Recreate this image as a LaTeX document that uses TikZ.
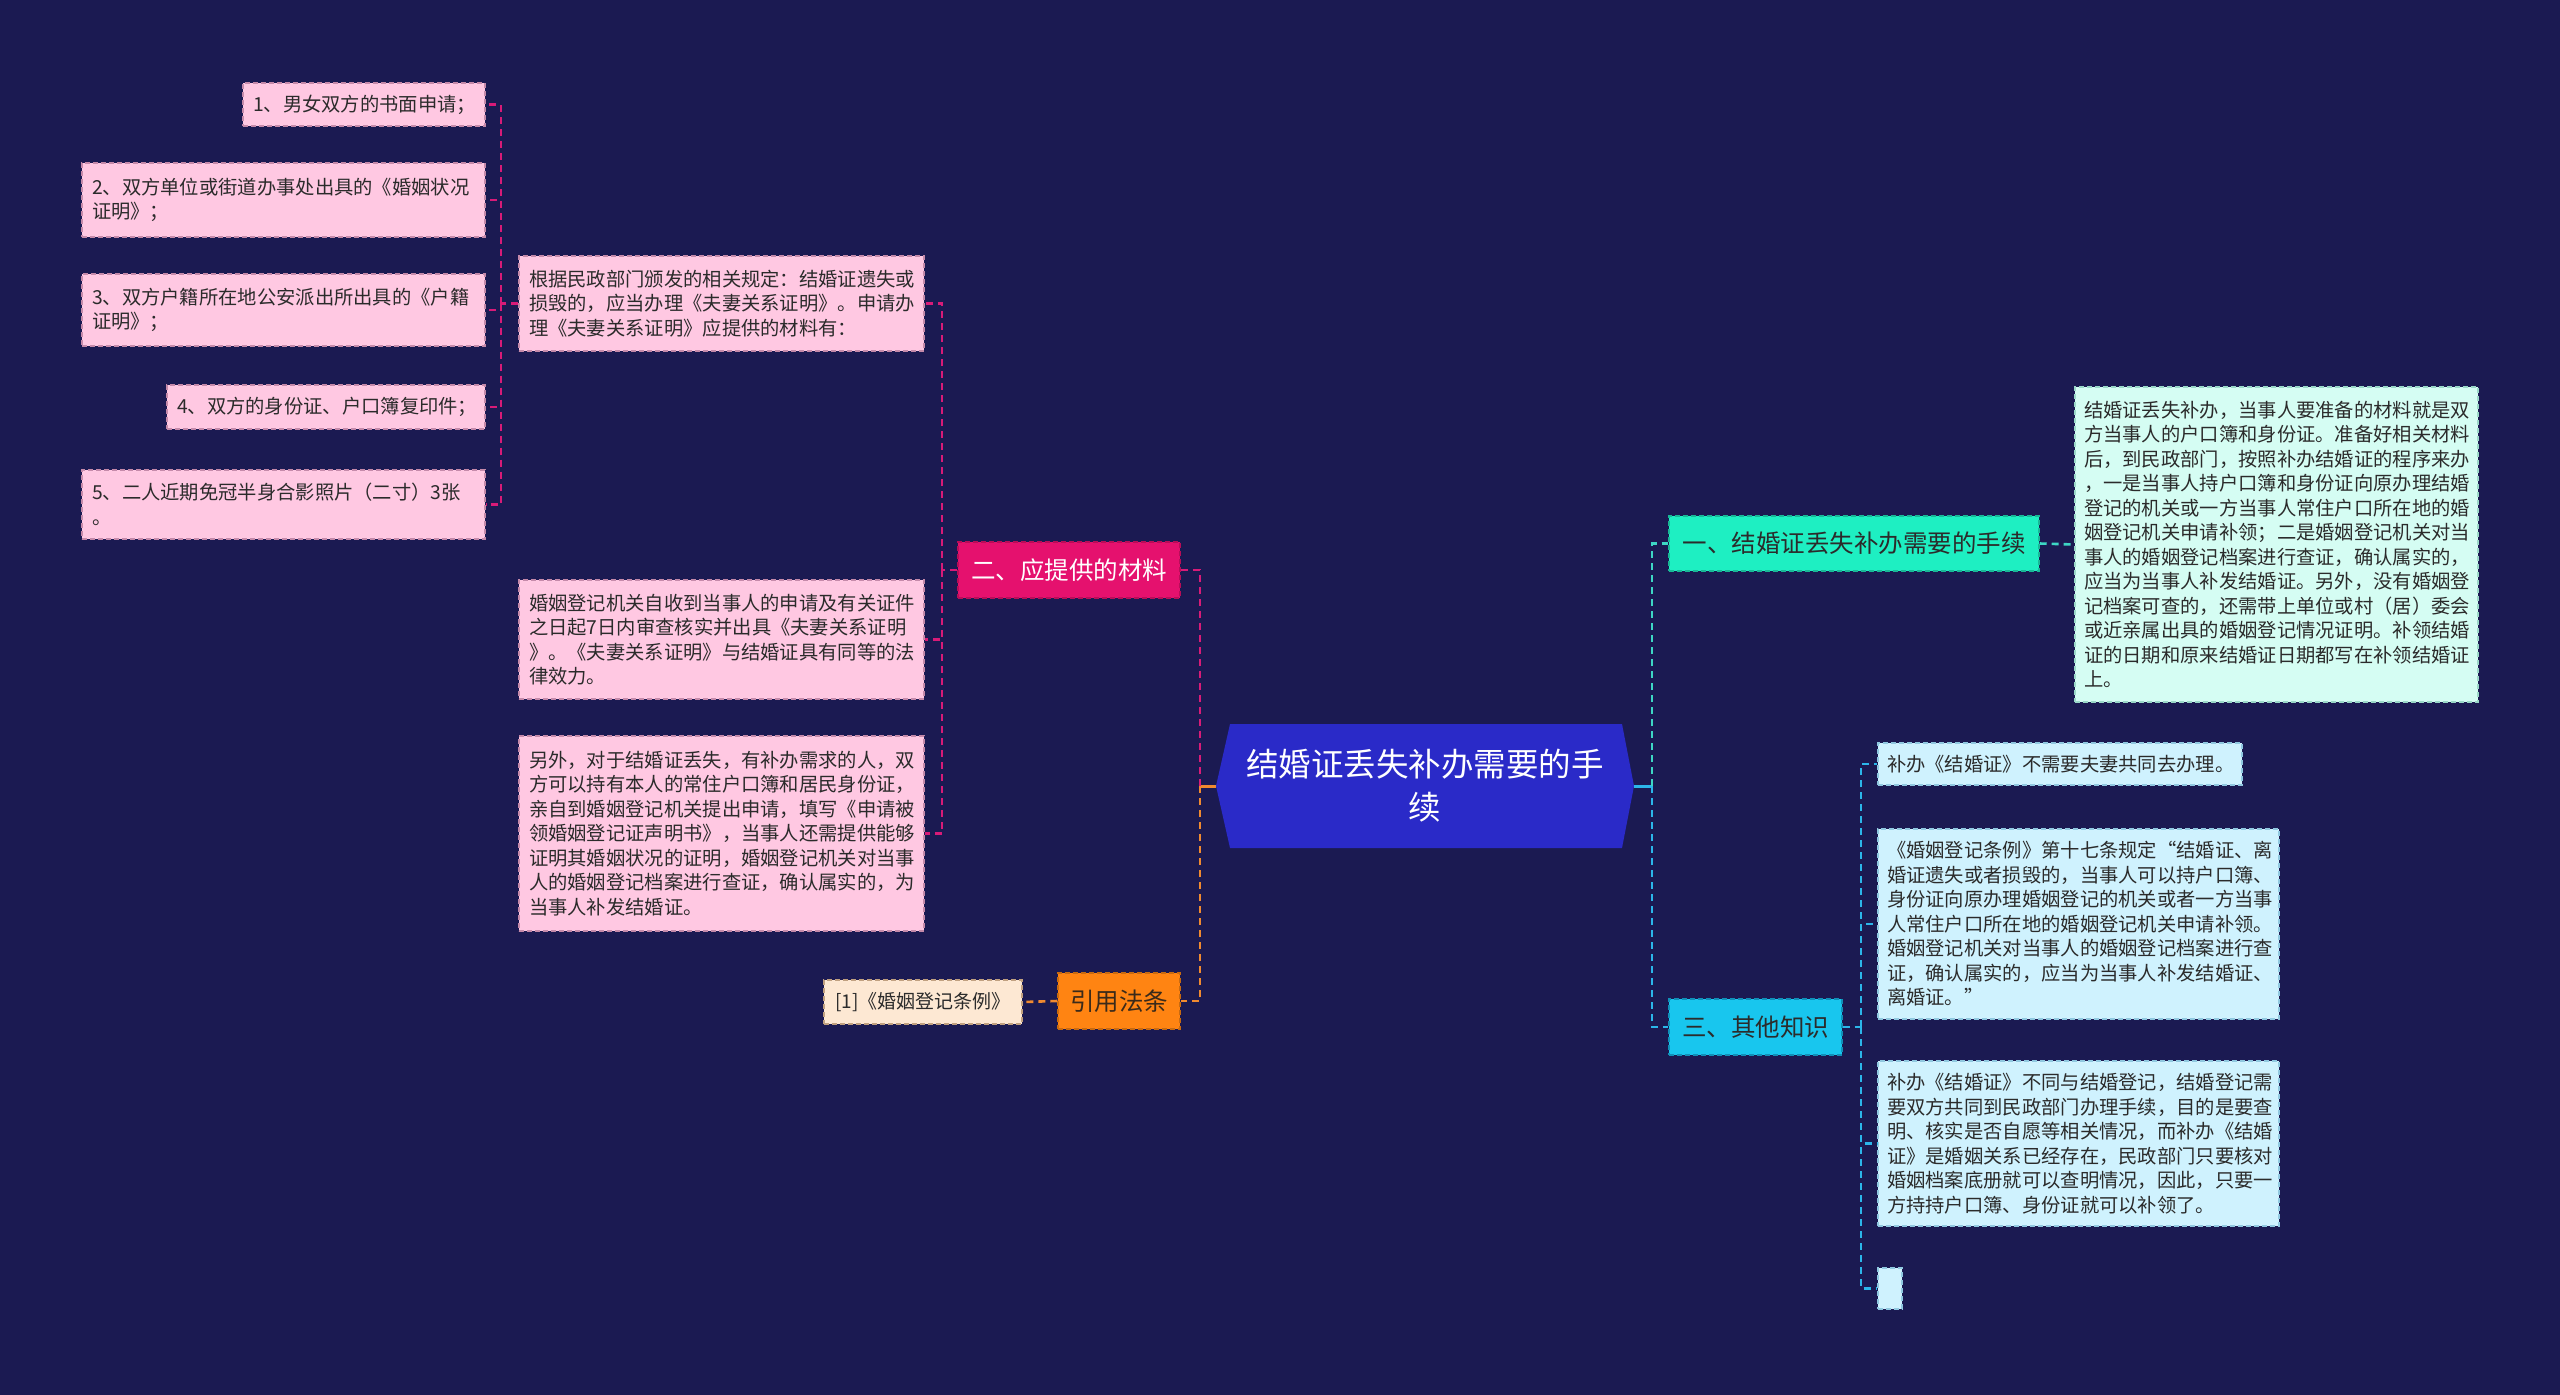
\documentclass[tikz,border=0pt]{standalone}
\usepackage{fontspec}
\setmainfont{Noto Sans CJK SC}
\newcommand\myfs[2]{\fontsize{#1}{#2}\selectfont}
\definecolor{bgc}{HTML}{1B1A52}
\definecolor{leaff}{HTML}{FFC8E2}
\definecolor{leafd}{HTML}{C58AAA}
\definecolor{magf}{HTML}{E5116E}
\definecolor{magd}{HTML}{B80D58}
\definecolor{cpink}{HTML}{D81B78}
\definecolor{orgf}{HTML}{FF8412}
\definecolor{orgd}{HTML}{C86A10}
\definecolor{corg}{HTML}{F08A30}
\definecolor{reff}{HTML}{FDE8D3}
\definecolor{refd}{HTML}{C0A080}
\definecolor{rootf}{HTML}{2A2AC8}
\definecolor{onef}{HTML}{1EEFC2}
\definecolor{oned}{HTML}{18B896}
\definecolor{rtf}{HTML}{D5FDF3}
\definecolor{rtd}{HTML}{9AD8C8}
\definecolor{threef}{HTML}{18C6EE}
\definecolor{threed}{HTML}{1090B8}
\definecolor{kf}{HTML}{CFF2FE}
\definecolor{kd}{HTML}{90C8E0}
\definecolor{cteal}{HTML}{3ED6C4}
\definecolor{csky}{HTML}{2CB6EA}
\definecolor{txt}{HTML}{2B2B2B}
\begin{document}
\begin{tikzpicture}[x=1pt,y=-1pt,
  conn/.style={line width=2.6pt, dash pattern=on 7pt off 5pt},
  solidconn/.style={line width=3pt},
  base/.style={draw, line width=1.4pt, dash pattern=on 5pt off 3pt, inner sep=0pt, text=txt},
  textbox/.style={base, align=left, font=\myfs{19.3}{24.5}},
  leaf/.style={textbox, fill=leaff, draw=leafd},
  pinkbox/.style={textbox, fill=leaff, draw=leafd},
  kbox/.style={textbox, fill=kf, draw=kd},
  rtbox/.style={textbox, fill=rtf, draw=rtd},
  topic/.style={base, align=center, font=\myfs{24.5}{30}}
]
\useasboundingbox (0,0) rectangle (2560,1395);
\fill[bgc] (0,0) rectangle (2560,1395);

% root hexagon
\fill[rootf] (1230,724) -- (1622,724) -- (1634,786) -- (1622,848) -- (1230,848) -- (1216,786) -- cycle;
\node[text=white, align=center, font=\myfs{32.5}{43}, minimum width=418pt, minimum height=124pt, inner sep=0pt] (root) at (1425,786) {结婚证丢失补办需要的手\\续};

% left main topics
\node[topic, fill=magf, draw=magd, text=white, minimum width=222pt, minimum height=56pt] (two) at (1069,570) {二、应提供的材料};
\node[topic, fill=orgf, draw=orgd, text={rgb,255:red,58;green,42;blue,26}, minimum width=122pt, minimum height=56pt] (cite) at (1119,1001) {引用法条};
\node[base, fill=reff, draw=refd, font=\myfs{19}{24}, minimum width=198pt, minimum height=44pt] (ref) at (923,1002) {[1]《婚姻登记条例》};

% pink boxes
\node[pinkbox, minimum width=405pt, minimum height=95pt, text width=385pt] (p1) at (721.5,303.5) {根据民政部门颁发的相关规定：结婚证遗失或\\损毁的，应当办理《夫妻关系证明》。申请办\\理《夫妻关系证明》应提供的材料有：};
\node[pinkbox, minimum width=405pt, minimum height=119pt, text width=385pt] (p2) at (721.5,639.5) {婚姻登记机关自收到当事人的申请及有关证件\\之日起7日内审查核实并出具《夫妻关系证明\\》。《夫妻关系证明》与结婚证具有同等的法\\律效力。};
\node[pinkbox, minimum width=405pt, minimum height=195pt, text width=385pt] (p3) at (721.5,833.5) {另外，对于结婚证丢失，有补办需求的人，双\\方可以持有本人的常住户口簿和居民身份证，\\亲自到婚姻登记机关提出申请，填写《申请被\\领婚姻登记证声明书》，当事人还需提供能够\\证明其婚姻状况的证明，婚姻登记机关对当事\\人的婚姻登记档案进行查证，确认属实的，为\\当事人补发结婚证。};

% leaves
\node[leaf, minimum width=242pt, minimum height=43pt, text width=222pt] (l1) at (364,104.5) {1、男女双方的书面申请；};
\node[leaf, minimum width=403pt, minimum height=74pt, text width=383pt] (l2) at (283.5,200) {2、双方单位或街道办事处出具的《婚姻状况\\证明》；};
\node[leaf, minimum width=403pt, minimum height=72pt, text width=383pt] (l3) at (283.5,310) {3、双方户籍所在地公安派出所出具的《户籍\\证明》；};
\node[leaf, minimum width=318pt, minimum height=44pt, text width=298pt] (l4) at (326,407) {4、双方的身份证、户口簿复印件；};
\node[leaf, minimum width=403pt, minimum height=69pt, text width=383pt] (l5) at (283.5,504.5) {5、二人近期免冠半身合影照片（二寸）3张\\。};

% right topics
\node[topic, fill=onef, draw=oned, minimum width=370pt, minimum height=55pt] (one) at (1854,543.5) {一、结婚证丢失补办需要的手续};
\node[rtbox, minimum width=403pt, minimum height=315pt, text width=385pt] (rt) at (2276.5,544.5) {结婚证丢失补办，当事人要准备的材料就是双\\方当事人的户口簿和身份证。准备好相关材料\\后，到民政部门，按照补办结婚证的程序来办\\，一是当事人持户口簿和身份证向原办理结婚\\登记的机关或一方当事人常住户口所在地的婚\\姻登记机关申请补领；二是婚姻登记机关对当\\事人的婚姻登记档案进行查证，确认属实的，\\应当为当事人补发结婚证。另外，没有婚姻登\\记档案可查的，还需带上单位或村（居）委会\\或近亲属出具的婚姻登记情况证明。补领结婚\\证的日期和原来结婚证日期都写在补领结婚证\\上。};
\node[topic, fill=threef, draw=threed, minimum width=173pt, minimum height=56pt] (three) at (1755.5,1027) {三、其他知识};
\node[kbox, minimum width=364pt, minimum height=42pt, text width=346pt] (k1) at (2060,764) {补办《结婚证》不需要夫妻共同去办理。};
\node[kbox, minimum width=401pt, minimum height=190pt, text width=383pt] (k2) at (2078.5,924) {《婚姻登记条例》第十七条规定“结婚证、离\\婚证遗失或者损毁的，当事人可以持户口簿、\\身份证向原办理婚姻登记的机关或者一方当事\\人常住户口所在地的婚姻登记机关申请补领。\\婚姻登记机关对当事人的婚姻登记档案进行查\\证，确认属实的，应当为当事人补发结婚证、\\离婚证。”};
\node[kbox, minimum width=401pt, minimum height=165pt, text width=383pt] (k3) at (2078.5,1143.5) {补办《结婚证》不同与结婚登记，结婚登记需\\要双方共同到民政部门办理手续，目的是要查\\明、核实是否自愿等相关情况，而补办《结婚\\证》是婚姻关系已经存在，民政部门只要核对\\婚姻档案底册就可以查明情况，因此，只要一\\方持持户口簿、身份证就可以补领了。};
\node[kbox, minimum width=24pt, minimum height=41pt] (k4) at (1890,1288.5) {};

% junction coordinates
\coordinate (jl) at (1200,786);
\coordinate (jr) at (1652,786);
\coordinate (j2) at (942,570);
\coordinate (jp) at (501,303.5);
\coordinate (j3) at (1861,1027);

% connectors: root left
\draw[solidconn, corg] (root.west) -- (jl);
\draw[conn, cpink] (jl) |- (two.east);
\draw[conn, corg] (jl) |- (cite.east);
\draw[conn, corg] (cite.west) -- (ref.east);
% two -> pink boxes
\draw[conn, cpink] (two.west) -- (j2);
\draw[conn, cpink] (j2) |- (p1.east);
\draw[conn, cpink] (j2) |- (p2.east);
\draw[conn, cpink] (j2) |- (p3.east);
% p1 -> leaves
\draw[conn, cpink] (p1.west) -- (jp);
\draw[conn, cpink] (jp) |- (l1.east);
\draw[conn, cpink] (jp) |- (l2.east);
\draw[conn, cpink] (jp) |- (l3.east);
\draw[conn, cpink] (jp) |- (l4.east);
\draw[conn, cpink] (jp) |- (l5.east);
% root right
\draw[solidconn, csky] (root.east) -- (jr);
\draw[conn, cteal] (jr) |- (one.west);
\draw[conn, csky] (jr) |- (three.west);
\draw[conn, cteal] (one.east) -- (rt.west);
% three -> knowledge
\draw[conn, csky] (three.east) -- (j3);
\draw[conn, csky] (j3) |- (k1.west);
\draw[conn, csky] (j3) |- (k2.west);
\draw[conn, csky] (j3) |- (k3.west);
\draw[conn, csky] (j3) |- (k4.west);
\end{tikzpicture}
\end{document}
